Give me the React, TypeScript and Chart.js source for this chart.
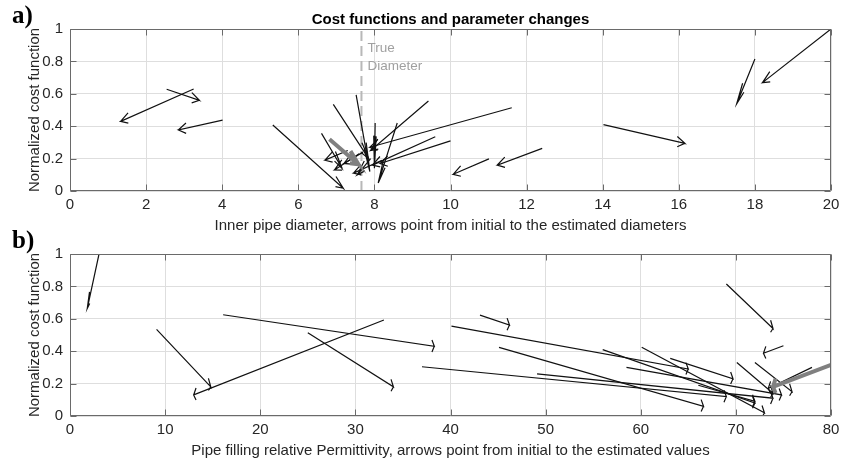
import React, { useEffect, useRef } from "react";
import { Chart, registerables } from "chart.js";

Chart.register(...registerables);

// ---------- Panel a) data ----------
const aXTicks = [0, 2, 4, 6, 8, 10, 12, 14, 16, 18, 20];
const aYTicks = [0, 0.2, 0.4, 0.6, 0.8, 1];
const aStartX = [3.25, 2.54, 4.01, 5.33, 20.0, 18.0, 14.02, 12.41, 11.01, 11.61, 9.42, 9.6, 10.0, 8.6, 6.92, 7.52, 6.61, 8.02, 7.3, 7.6, 8.2, 7.9, 7.7];
const aStartY = [0.63, 0.628, 0.438, 0.407, 1.0, 0.815, 0.41, 0.263, 0.198, 0.514, 0.556, 0.335, 0.309, 0.42, 0.535, 0.593, 0.356, 0.42, 0.25, 0.23, 0.19, 0.2, 0.24];
const aEndX = [1.33, 3.4, 2.85, 7.18, 18.2, 17.52, 16.16, 11.23, 10.07, 7.88, 7.9, 7.95, 8.15, 8.1, 7.85, 7.88, 7.15, 8.0, 6.7, 6.95, 7.45, 7.55, 7.2];
const aEndY = [0.43, 0.56, 0.377, 0.017, 0.669, 0.537, 0.294, 0.16, 0.103, 0.27, 0.25, 0.16, 0.17, 0.05, 0.2, 0.12, 0.14, 0.14, 0.19, 0.13, 0.11, 0.1, 0.17];
const aGrayStart = [6.82, 0.319];
const aGrayEnd = [7.58, 0.165];
const trueDiameter = 7.66;

// ---------- Panel b) data ----------
const bXTicks = [0, 10, 20, 30, 40, 50, 60, 70, 80];
const bYTicks = [0, 0.2, 0.4, 0.6, 0.8, 1];
const bStartX = [3.05, 9.1, 33.0, 25.0, 16.1, 37.0, 43.1, 40.1, 56.0, 60.1, 63.1, 70.1, 72.0, 45.1, 49.1, 66.05, 69.0, 75.0, 78.0, 58.5];
const bStartY = [1.0, 0.535, 0.593, 0.514, 0.625, 0.304, 0.623, 0.555, 0.41, 0.424, 0.356, 0.33, 0.33, 0.424, 0.26, 0.19, 0.815, 0.434, 0.3, 0.3];
const bEndX = [1.82, 14.8, 13.0, 34.0, 38.3, 69.0, 46.2, 65.0, 72.0, 73.0, 69.7, 73.9, 75.9, 66.6, 73.9, 72.0, 73.9, 72.9, 73.4, 74.8];
const bEndY = [0.665, 0.18, 0.13, 0.18, 0.43, 0.12, 0.562, 0.29, 0.08, 0.02, 0.23, 0.14, 0.15, 0.06, 0.11, 0.09, 0.54, 0.387, 0.17, 0.13];
const bGrayStart = [80.0, 0.315];
const bGrayEnd = [73.9, 0.18];

const FONT = "'Liberation Sans', Arial, Helvetica, sans-serif";
const TXT = "#262626";
const FS = 15;

// arrow polyline in data space (MATLAB-like quiver heads)
function arrow(x0: number, y0: number, x1: number, y1: number, A: number, B: number) {
  const u = x1 - x0, v = y1 - y0;
  const n = Math.hypot(u, v) || 1;
  const dx = u / n, dy = v / n;
  const px = -dy, py = dx;
  return [
    { x: x0, y: y0 },
    { x: x1, y: y1 },
    { x: x1 - A * dx + B * px, y: y1 - A * dy + B * py },
    { x: x1, y: y1 },
    { x: x1 - A * dx - B * px, y: y1 - A * dy - B * py },
  ];
}

const framePlugin = {
  id: "frame",
  afterDraw(chart: any, _args: any, opts: any) {
    const { ctx, chartArea, scales } = chart;
    const { left, right, top, bottom } = chartArea;
    const xs = scales.x, ys = scales.y;
    ctx.save();
    ctx.strokeStyle = "#6a6a6a";
    ctx.lineWidth = 1;
    ctx.beginPath();
    const L = Math.round(left) + 0.5, R = Math.round(right) - 0.5, T = Math.round(top) + 0.5, Bm = Math.round(bottom) - 0.5;
    ctx.rect(L, T, R - L, Bm - T);
    const tl = 6;
    (opts.xTicks || []).forEach((v: number) => {
      const p = Math.round(xs.getPixelForValue(v)) + 0.5;
      ctx.moveTo(p, Bm); ctx.lineTo(p, Bm - tl);
      ctx.moveTo(p, T); ctx.lineTo(p, T + tl);
    });
    (opts.yTicks || []).forEach((v: number) => {
      const p = Math.round(ys.getPixelForValue(v)) + 0.5;
      ctx.moveTo(L, p); ctx.lineTo(L + tl, p);
      ctx.moveTo(R, p); ctx.lineTo(R - tl, p);
    });
    ctx.stroke();
    if (opts.panel) {
      ctx.fillStyle = "#000";
      ctx.font = "bold 25px 'Liberation Serif', 'Times New Roman', serif";
      ctx.textBaseline = "alphabetic";
      ctx.textAlign = "left";
      ctx.fillText(opts.panel, opts.panelX, opts.panelY);
    }
    (opts.notes || []).forEach((n: any) => {
      ctx.fillStyle = "#a0a0a0";
      ctx.font = `13.5px ${FONT}`;
      ctx.textBaseline = "middle";
      ctx.textAlign = "left";
      ctx.fillText(n.text, xs.getPixelForValue(n.x) + 6, ys.getPixelForValue(n.y));
    });
    ctx.restore();
  },
};

function buildDatasets(sx: number[], sy: number[], ex: number[], ey: number[], gs: number[], ge: number[], A: number, B: number, extra: any[]) {
  const ds: any[] = [];
  ds.push({
    data: arrow(gs[0], gs[1], ge[0], ge[1], A * 1.1, B * 1.2),
    borderColor: "#808080",
    borderWidth: 4,
  });
  for (let i = 0; i < sx.length; i++) {
    ds.push({
      data: arrow(sx[i], sy[i], ex[i], ey[i], A, B),
      borderColor: "#111111",
      borderWidth: 1.2,
    });
  }
  ds.push(...extra);
  return ds.map((d) => ({
    showLine: true,
    pointRadius: 0,
    pointHoverRadius: 0,
    tension: 0,
    fill: false,
    borderJoinStyle: "miter",
    ...d,
  }));
}

function makeScales(xMin: number, xMax: number, xStep: number, yStep: number, xTitle: string, xHeight: number) {
  return {
    x: {
      type: "linear",
      min: xMin,
      max: xMax,
      ticks: { stepSize: xStep, padding: 5, color: TXT, font: { size: FS, family: FONT } },
      grid: { color: "#dedede", drawTicks: false, lineWidth: 1 },
      border: { display: false },
      title: { display: true, text: xTitle, color: TXT, font: { size: FS, family: FONT, lineHeight: 1.2 }, padding: { top: 0, bottom: 0 } },
      afterFit: (s: any) => { s.height = xHeight; },
    },
    y: {
      type: "linear",
      min: 0,
      max: 1,
      ticks: {
        stepSize: yStep,
        padding: 7,
        color: TXT,
        font: { size: FS, family: FONT },
        callback: (v: any) => String(Math.round(Number(v) * 10) / 10),
      },
      grid: { color: "#dedede", drawTicks: false, lineWidth: 1 },
      border: { display: false },
      title: { display: true, text: "Normalized cost function", color: TXT, font: { size: FS, family: FONT, lineHeight: 1.2 }, padding: { top: 26, bottom: 0 } },
      afterFit: (s: any) => { s.width = 70; },
    },
  };
}

export default function App() {
  const refA = useRef<HTMLCanvasElement>(null);
  const refB = useRef<HTMLCanvasElement>(null);

  useEffect(() => {
    const dashed = {
      data: [{ x: trueDiameter, y: 0 }, { x: trueDiameter, y: 1 }],
      borderColor: "#b8b8b8",
      borderWidth: 2,
      borderDash: [10, 5],
    };
    const chartA = new Chart(refA.current as HTMLCanvasElement, {
      type: "scatter",
      data: { datasets: buildDatasets(aStartX, aStartY, aEndX, aEndY, aGrayStart, aGrayEnd, 0.2, 0.032, [dashed]) },
      options: {
        responsive: false,
        animation: false,
        events: [],
        layout: { padding: { left: 0, right: 21, top: 0, bottom: 0 } },
        plugins: {
          legend: { display: false },
          tooltip: { enabled: false },
          title: {
            display: true,
            text: "Cost functions and parameter changes",
            fullSize: false,
            color: "#000",
            font: { size: FS, weight: "bold", family: FONT, lineHeight: 1 },
            padding: { top: 12, bottom: 2 },
          },
          frame: {
            xTicks: aXTicks,
            yTicks: aYTicks,
            panel: "a)",
            panelX: 12,
            panelY: 23,
            notes: [
              { text: "True", x: trueDiameter, y: 0.884 },
              { text: "Diameter", x: trueDiameter, y: 0.772 },
            ],
          },
        } as any,
        scales: makeScales(0, 20, 2, 0.2, "Inner pipe diameter, arrows point from initial to the estimated diameters", 44) as any,
      },
      plugins: [framePlugin],
    });

    const chartB = new Chart(refB.current as HTMLCanvasElement, {
      type: "scatter",
      data: { datasets: buildDatasets(bStartX, bStartY, bEndX, bEndY, bGrayStart, bGrayEnd, 0.25, 0.037, []) },
      options: {
        responsive: false,
        animation: false,
        events: [],
        layout: { padding: { left: 0, right: 21, top: 24, bottom: 0 } },
        plugins: {
          legend: { display: false },
          tooltip: { enabled: false },
          frame: {
            xTicks: bXTicks,
            yTicks: bYTicks,
            panel: "b)",
            panelX: 12,
            panelY: 18,
            notes: [],
          },
        } as any,
        scales: makeScales(0, 80, 10, 0.2, "Pipe filling relative Permittivity, arrows point from initial to the estimated values", 44) as any,
      },
      plugins: [framePlugin],
    });

    return () => {
      chartA.destroy();
      chartB.destroy();
    };
  }, []);

  return (
    <div style={{ position: "absolute", left: 0, top: 0, width: 852, height: 460, background: "#fff" }}>
      <canvas ref={refA} width={852} height={235} style={{ position: "absolute", left: 0, top: 0, display: "block" }} />
      <canvas ref={refB} width={852} height={230} style={{ position: "absolute", left: 0, top: 230, display: "block" }} />
    </div>
  );
}
